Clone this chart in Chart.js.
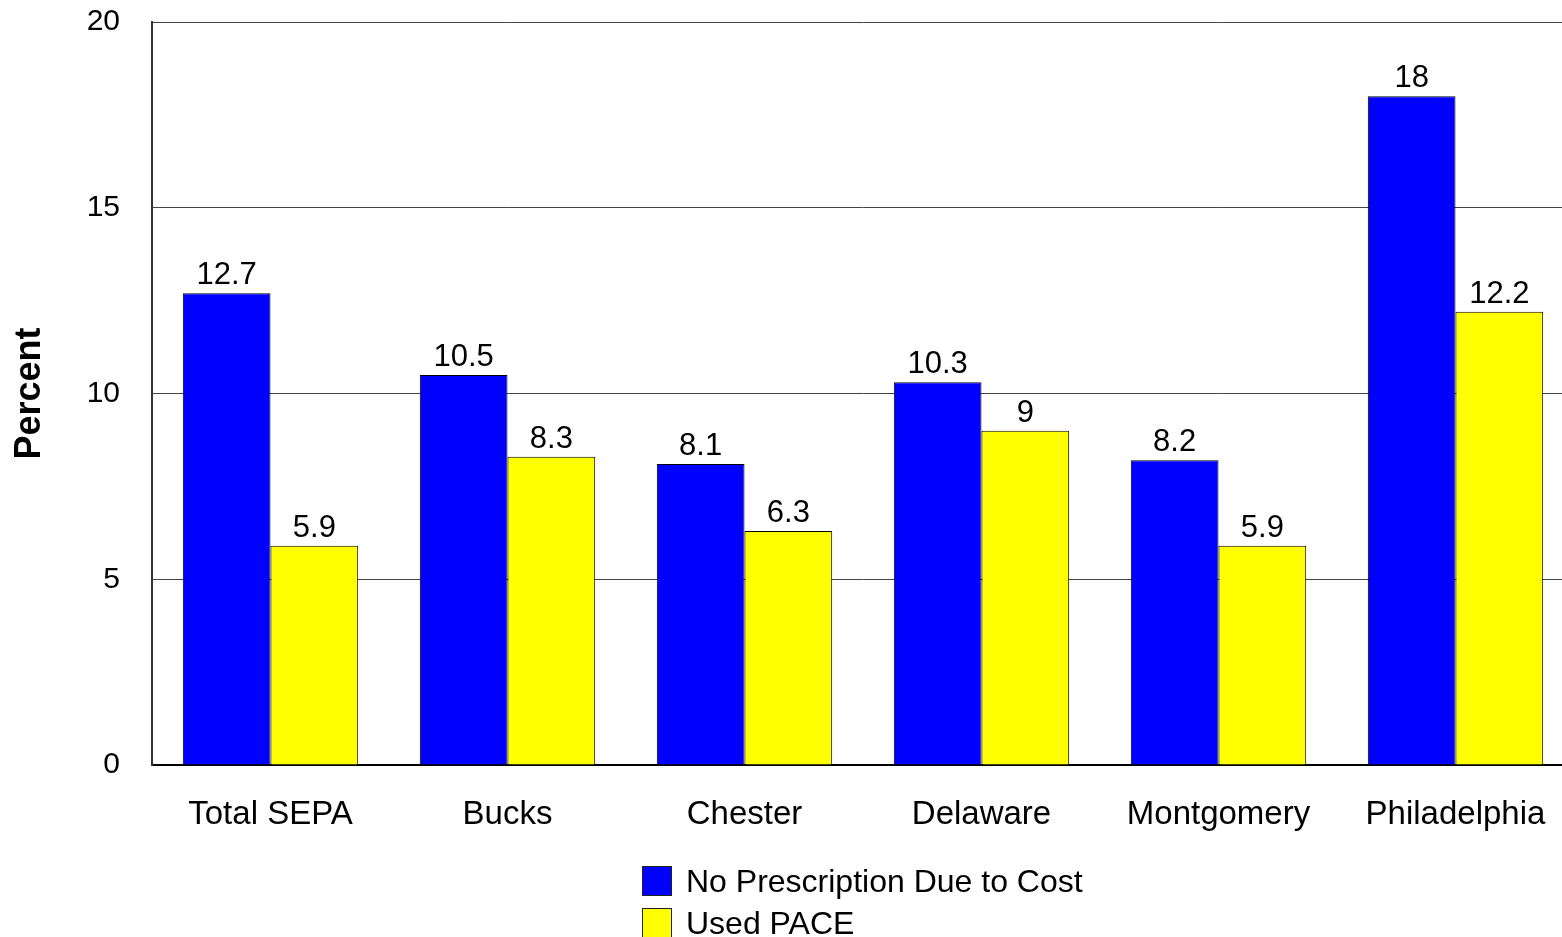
<!DOCTYPE html>
<html>
<head>
<meta charset="utf-8">
<script src="https://cdn.jsdelivr.net/npm/chart.js@4/dist/chart.umd.min.js"></script>
<style>
  html, body { margin: 0; padding: 0; background: #fff; overflow: hidden; }
  #wrap { position: relative; width: 1562px; height: 937px; overflow: hidden; }
  #c { position: absolute; left: 0; top: 0; }
  #legend { position: absolute; left: 642px; top: 860px; font-family: "Liberation Sans", Arial, sans-serif; font-size: 32px; color: #000; }
  .li { display: flex; align-items: center; height: 42px; }
  .sw { width: 30px; height: 30px; border: 1px solid #222; margin-right: 14px; box-sizing: border-box; }
</style>
</head>
<body>
<div id="wrap">
  <canvas id="c" width="1574" height="937"></canvas>
  <div id="legend"></div>
</div>
<script>
const categories = ["Total SEPA", "Bucks", "Chester", "Delaware", "Montgomery", "Philadelphia"];
const noPrescription = [12.7, 10.5, 8.1, 10.3, 8.2, 18];
const usedPace = [5.9, 8.3, 6.3, 9, 5.9, 12.2];
const seriesNames = ["No Prescription Due to Cost", "Used PACE"];
const seriesColors = ["#0000FF", "#FFFF00"];
const yTicks = [0, 5, 10, 15, 20];

const FONT = "'Liberation Sans', Arial, sans-serif";

const valueLabels = {
  id: 'valueLabels',
  afterDatasetsDraw(chart) {
    const ctx = chart.ctx;
    ctx.save();
    ctx.font = "31px " + FONT;
    ctx.fillStyle = "#000";
    ctx.textAlign = "center";
    ctx.textBaseline = "alphabetic";
    chart.data.datasets.forEach((ds, di) => {
      const meta = chart.getDatasetMeta(di);
      meta.data.forEach((bar, i) => {
        ctx.fillText(String(ds.data[i]), bar.x, bar.y - 9);
      });
    });
    ctx.restore();
  }
};

const chart = new Chart(document.getElementById('c'), {
  type: 'bar',
  data: {
    labels: categories,
    datasets: [
      { label: seriesNames[0], data: noPrescription, backgroundColor: seriesColors[0], borderColor: "#000", borderWidth: 1, categoryPercentage: 0.74, barPercentage: 1.0 },
      { label: seriesNames[1], data: usedPace, backgroundColor: seriesColors[1], borderColor: "#000", borderWidth: 1, categoryPercentage: 0.74, barPercentage: 1.0 }
    ]
  },
  options: {
    responsive: false,
    animation: false,
    devicePixelRatio: 1,
    layout: { padding: { top: 22, right: 0, bottom: 102, left: 0 } },
    plugins: {
      legend: { display: false },
      tooltip: { enabled: false }
    },
    scales: {
      x: {
        grid: { display: false, drawTicks: false },
        border: { display: true, color: "#000", width: 2 },
        ticks: { color: "#000", font: { family: FONT, size: 33 }, padding: 30, maxRotation: 0 },
        afterFit(s) { s.height = 70; s.paddingLeft = 0; s.paddingRight = 0; }
      },
      y: {
        min: 0, max: 20,
        afterBuildTicks(s) { s.ticks = yTicks.map(v => ({ value: v })); },
        grid: { color: "#444", lineWidth: 1, drawTicks: false },
        border: { display: true, color: "#333", width: 2 },
        ticks: { color: "#000", font: { family: FONT, size: 30 }, padding: 32 },
        title: { display: true, text: "Percent", color: "#000", font: { family: FONT, size: 36, weight: 'bold' }, padding: { top: 8, bottom: 0 } },
        afterFit(s) { s.width = 152; s.paddingTop = 0; s.paddingBottom = 0; }
      }
    }
  },
  plugins: [valueLabels]
});

const lg = document.getElementById('legend');
seriesNames.forEach((n, i) => {
  const d = document.createElement('div');
  d.className = 'li';
  d.innerHTML = '<span class="sw" style="background:' + seriesColors[i] + '"></span><span>' + n + '</span>';
  lg.appendChild(d);
});
</script>
</body>
</html>
